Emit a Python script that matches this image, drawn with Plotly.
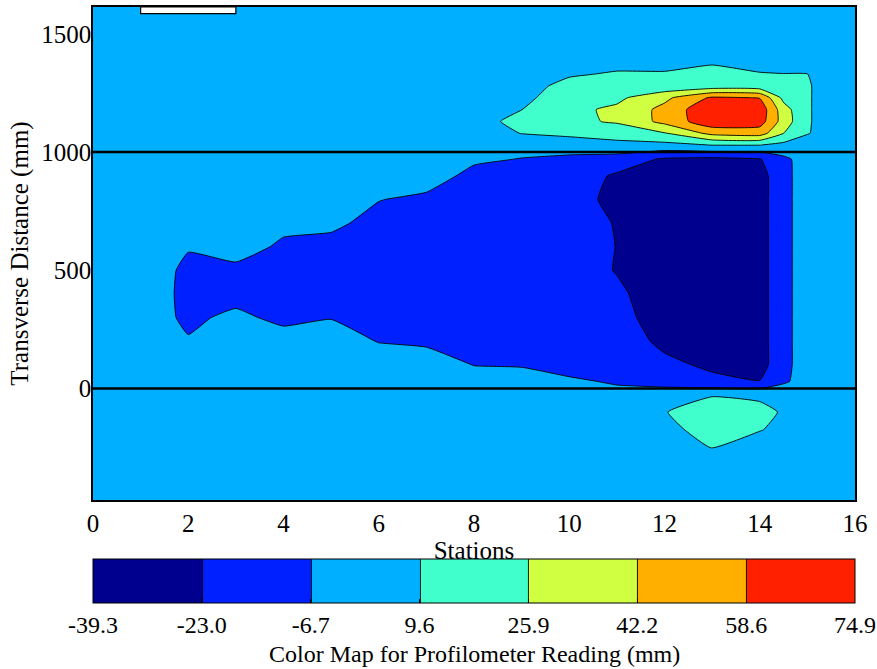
import plotly.graph_objects as go

# Grid coordinates (stations, transverse distance in mm)
stations = [0, 1, 2, 3, 4, 5, 6, 7, 8, 9, 10, 11, 12, 13, 14, 14.5, 15, 16]
transverse = [-480, -350, -250, -175, -100, -30, 30, 100, 200, 300, 400, 500, 600,
              700, 800, 900, 970, 1030, 1080, 1130, 1180, 1230, 1280, 1330, 1400, 1500, 1620]

# Profilometer readings (mm), one row per transverse position, columns = stations
readings = [
    # x: 0  1    2     3     4     5     6     7     8     9     10    11     12    13     14    14.5   15    16
    [0, 0, 0, 0, 0, 0, 0, 0, 0, 0, 0, 0, 0, 0, 0, 0, 0, 0],                                    # -480
    [0, 0, 0, 0, 0, 0, 0, 0, 0, 0, 0, 0, 0, 0, 0, 0, 0, 0],                                    # -350
    [0, 0, 0, 0, 0, 0, 0, 0, 0, 0, 0, 0, 0, 10, 0, 0, 0, 0],                                   # -250
    [0, 0, 0, 0, 0, 0, 0, 0, 0, 0, 0, 0, 5, 16, 10.5, 5, 0, 0],                                # -175
    [0, 0, 0, 0, 0, 0, 0, 0, 0, 0, 0, 0, 9, 18, 13, 8.5, 0, 0],                                # -100
    [0, 0, 0, 0, 0, 0, 0, 0, 0, 0, 0, 0, 4, 9, 7.7, 5, 0, 0],                                  # -30
    [0, 0, 0, 0, 0, 0, 0, 0, 2, 1, -3.4, -9, -14, -20, -22.5, -9, 0, 0],                       # 30
    [0, 0, 0, 0, 0, 0, 5, 3.2, -7.2, -8, -15, -15, -20, -25.3, -30, -10.5, 0, 0],              # 100
    [0, 0, -5, 0, 2.7, 3, -7.5, -10, -15, -15, -15, -16, -26, -33, -30, -10.5, 0, 0],          # 200
    [0, 6, -11, -2, -12, -7.5, -15, -15, -15, -15, -15, -18, -30, -33, -30, -10.5, 0, 0],      # 300
    [0, 6, -12, -14, -15, -15, -15, -15, -15, -15, -15, -20, -32, -33, -30, -10.5, 0, 0],      # 400
    [0, 6, -11, -14, -15, -15, -15, -15, -15, -15, -15, -23.8, -32, -33, -30, -10.5, 0, 0],    # 500
    [0, 0, -5.3, 7, -12, -15, -15, -15, -15, -15, -15, -23.3, -32, -33, -30, -10.5, 0, 0],     # 600
    [0, 0, 0, 0, 1.25, -1.2, -15, -15, -15, -15, -15, -24, -32, -33, -30, -10.5, 0, 0],        # 700
    [0, 0, 0, 0, 0, 0, -5.8, -12, -15, -15, -15.5, -28, -32, -33, -30, -10.5, 0, 0],           # 800
    [0, 0, 0, 0, 0, 0, 0, 5.7, -14, -15, -15, -25, -30, -33, -30, -10.5, 0, 0],                # 900
    [0, 0, 0, 0, 0, 0, 0, 0, -2.6, -7.5, -10, -14, -25, -27, -24, -10, 0, 0],                  # 970
    [0, 0, 0, 0, 0, 0, 0, 0, 0, 2, 1, 5.7, 5, 10, 10, 5, 2, 0],                                # 1030
    [0, 0, 0, 0, 0, 0, 0, 0, 3, 10, 13.3, 15.4, 25, 47, 50, 26, 10.5, -4],                     # 1080
    [0, 0, 0, 0, 0, 0, 0, 0, 5.4, 13, 22, 28, 47, 70, 66, 35, 11, -4],                         # 1130
    [0, 0, 0, 0, 0, 0, 0, 0, 3, 9.5, 22, 29, 47, 72, 69, 33, 11, -4],                          # 1180
    [0, 0, 0, 0, 0, 0, 0, 0, 0, 5, 20, 22.4, 38.4, 61, 58, 21.2, 11, -4],                      # 1230
    [0, 0, 0, 0, 0, 0, 0, 0, 0, 0, 17, 18, 14, 16.4, 15, 15, 11, -4],                          # 1280
    [0, 0, 0, 0, 0, 0, 0, 0, 0, 0, 7, 12, 12, 13, 11, 10, 9.8, -4],                            # 1330
    [0, 0, 0, 0, 0, 0, 0, 0, 0, 0, 0, -0.9, -2, 6.9, -1, 0, 0, 0],                             # 1400
    [0, 0, 0, 0, 0, 0, 0, 0, 0, 0, 0, 0, 0, 0, 0, 0, 0, 0],                                    # 1500
    [0, 0, 0, 0, 0, 0, 0, 0, 0, 0, 0, 0, 0, 0, 0, 0, 0, 0],                                    # 1620
]

# Small patch with no readings at the top edge (stations 1-3)
gap_stations = [1, 3]
gap_transverse = [1586, 1614]

# Colour-map level boundaries and labels
level_values = [-39.3, -22.986, -6.671, 9.643, 25.957, 42.271, 58.586, 74.9]
level_labels = ["-39.3", "-23.0", "-6.7", "9.6", "25.9", "42.2", "58.6", "74.9"]
band_colors = ["#00008F", "#0020FF", "#00AFFF", "#40FFCC", "#CFFF40", "#FFAF00", "#FF2000"]

# Lane boundary lines (mm)
lane_lines = [0, 1000]

x_ticks = [0, 2, 4, 6, 8, 10, 12, 14, 16]
y_ticks = [0, 500, 1000, 1500]

step = 16.3143
n = len(band_colors)
cscale = []
for i, c in enumerate(band_colors):
    lo = 0 if i == 0 else (2 * i - 1) / (2 * (n - 1))
    hi = 1 if i == n - 1 else (2 * i + 1) / (2 * (n - 1))
    cscale.append([lo, c])
    cscale.append([hi, c])

FONT = "Liberation Serif, Times New Roman, serif"
FS = 25

fig = go.Figure()
fig.add_trace(go.Contour(
    x=stations, y=transverse, z=readings,
    autocontour=False,
    contours=dict(start=level_values[1], end=level_values[-2] + 0.01, size=step,
                  coloring="fill", showlines=True),
    zmin=level_values[0], zmax=level_values[-1],
    colorscale=cscale,
    line=dict(color="black", width=0.9, smoothing=0.4),
    colorbar=dict(
        orientation="h", x=0.5, xanchor="center", y=-0.1192, yanchor="top",
        lenmode="pixels", len=762, thickness=44, xpad=0, ypad=0,
        outlinewidth=1, outlinecolor="black",
        tickmode="array", tickvals=level_values, ticktext=level_labels,
        ticks="inside", ticklen=4, tickcolor="black",
        tickfont=dict(family=FONT, size=24, color="black"),
    ),
    hoverinfo="skip",
))

# white patch (missing readings) at the top edge
gx0, gx1 = gap_stations
gy0, gy1 = gap_transverse
fig.add_trace(go.Scatter(x=[gx0, gx1, gx1, gx0, gx0], y=[gy1, gy1, gy0, gy0, gy1],
                         mode="lines", fill="toself", fillcolor="white",
                         line=dict(color="black", width=1.2), showlegend=False,
                         hoverinfo="skip"))

for yl in lane_lines:
    fig.add_trace(go.Scatter(x=[stations[0], stations[-1]], y=[yl, yl], mode="lines",
                             line=dict(color="black", width=2.5), showlegend=False,
                             hoverinfo="skip"))

fig.add_annotation(text="Color Map for Profilometer Reading (mm)", xref="paper", yref="paper",
                   x=0.5, y=-0.3414, xanchor="center", yanchor="bottom", showarrow=False,
                   borderpad=0,
                   font=dict(family=FONT, size=24, color="black"))

fig.update_layout(
    width=877, height=669,
    margin=dict(l=93, r=22, t=5, b=169),
    paper_bgcolor="white", plot_bgcolor="white",
    showlegend=False,
    font=dict(family=FONT, size=FS, color="black"),
)
fig.update_xaxes(range=[0, 16], tickvals=x_ticks, ticks="", showgrid=False, zeroline=False,
                 showline=True, mirror=True, linecolor="black", linewidth=1.5,
                 tickfont=dict(family=FONT, size=FS, color="black"),
                 title=dict(text="Stations", standoff=3,
                            font=dict(family=FONT, size=FS, color="black")))
fig.update_yaxes(range=[-472, 1614], tickvals=y_ticks, ticks="", showgrid=False, zeroline=False,
                 showline=True, mirror=True, linecolor="black", linewidth=1.5,
                 ticklabelstandoff=-5,
                 tickfont=dict(family=FONT, size=FS, color="black"),
                 title=dict(text="Transverse Distance (mm)", standoff=6,
                            font=dict(family=FONT, size=FS, color="black")))

fig.write_html("out.html", config={"displayModeBar": False},
               post_script="document.body.style.margin='0px';")
